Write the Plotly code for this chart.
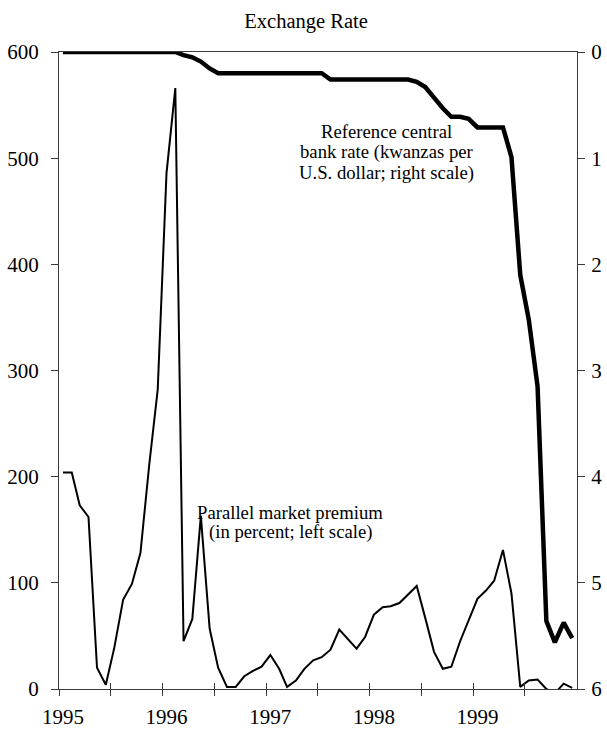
import pandas as pd
import plotly.graph_objects as go

# Monthly observations, January 1995 - December 1999 (plotted mid-month)
months = pd.date_range("1995-01-01", periods=60, freq="MS") + pd.Timedelta(days=14)

# Parallel market premium, in percent (left scale)
premium = [
    204, 204, 173, 162, 20, 4, 39, 84, 99, 128, 211, 282,      # 1995
    486, 566, 45, 66, 163, 57, 20, 2, 2, 12, 17, 21,           # 1996
    32, 19, 2, 8, 19, 27, 30, 37, 56, 47, 38, 49,              # 1997
    70, 77, 78, 81, 89, 97, 67, 35, 19, 21, 45, 65,            # 1998
    85, 93, 102, 131, 90, 2, 8, 9, 0, -4, 5, 1,                # 1999
]

# Reference central bank rate, kwanzas per U.S. dollar (right scale)
ref_rate = [
    0.0, 0.0, 0.0, 0.0, 0.0, 0.0, 0.0, 0.0, 0.0, 0.0, 0.0, 0.0,              # 1995
    0.0, 0.0, 0.03, 0.05, 0.09, 0.155, 0.20, 0.20, 0.20, 0.20, 0.20, 0.20,  # 1996
    0.20, 0.20, 0.20, 0.20, 0.20, 0.20, 0.20, 0.26, 0.26, 0.26, 0.26, 0.26, # 1997
    0.26, 0.26, 0.26, 0.26, 0.26, 0.28, 0.33, 0.43, 0.53, 0.61, 0.61, 0.63, # 1998
    0.71, 0.71, 0.71, 0.71, 0.99, 2.10, 2.52, 3.15, 5.36, 5.56, 5.375, 5.52, # 1999
]

year_ticks = ["1995-01-01", "1996-01-01", "1997-01-01", "1998-01-01", "1999-01-01"]
year_labels = ["1995", "1996", "1997", "1998", "1999"]
half_year_ticks = ["1995-07-01", "1996-07-01", "1997-07-01", "1998-07-01", "1999-07-01"]

left_ticks = [0, 100, 200, 300, 400, 500, 600]
right_ticks = [0, 1, 2, 3, 4, 5, 6]

rate_label = ["Reference central", "bank rate (kwanzas per", "U.S. dollar; right scale)"]
premium_label = ["Parallel market premium", "(in percent; left scale)"]

FONT = "Liberation Serif"
AXIS = "#3a3a3a"

fig = go.Figure()
fig.add_trace(go.Scatter(
    x=months, y=premium, mode="lines", xaxis="x", yaxis="y",
    line=dict(color="black", width=2), hoverinfo="skip", showlegend=False,
))
fig.add_trace(go.Scatter(
    x=months, y=ref_rate, mode="lines", xaxis="x", yaxis="y2",
    line=dict(color="black", width=4.5), hoverinfo="skip", showlegend=False,
))
# invisible copy that carries the inner half of the crossing x ticks
fig.add_trace(go.Scatter(
    x=months, y=premium, mode="lines", xaxis="x3", yaxis="y",
    line=dict(color="rgba(0,0,0,0)", width=0), hoverinfo="skip", showlegend=False,
))

x_range = ["1995-01-01", "2000-01-01"]

annotations = []
for i, line in enumerate(rate_label):
    annotations.append(dict(
        text=line, xref="paper", yref="paper", x=0.633, y=(689 - (131 + 21 * i)) / 637,
        xanchor="center", yanchor="middle", showarrow=False,
        font=dict(family=FONT, size=18.7, color="black")))
for i, line in enumerate(premium_label):
    annotations.append(dict(
        text=line, xref="paper", yref="paper", x=0.446, y=(689 - (512 + 20 * i)) / 637,
        xanchor="center", yanchor="middle", showarrow=False,
        font=dict(family=FONT, size=18.7, color="black")))

fig.update_layout(
    width=607, height=735,
    margin=dict(l=59, r=30, t=52, b=46),
    paper_bgcolor="white", plot_bgcolor="white",
    font=dict(family=FONT, size=21, color="black"),
    title=dict(text="Exchange Rate", x=0.477, xref="paper", xanchor="center",
               y=1 - 21 / 735, yref="container", yanchor="middle",
               font=dict(family=FONT, size=20.5, color="black")),
    xaxis=dict(
        type="date", range=x_range, tickmode="array",
        tickvals=year_ticks, ticktext=year_labels,
        ticks="outside", ticklen=6, tickwidth=1, tickcolor=AXIS,
        minor=dict(tickmode="array", tickvals=half_year_ticks, ticks="outside",
                   ticklen=6, tickwidth=1, tickcolor=AXIS),
        showline=True, linecolor=AXIS, linewidth=1, mirror=True,
        showgrid=False, zeroline=False, ticklabelshift=4, ticklabelstandoff=3,
        tickfont=dict(family=FONT, size=21), automargin=False,
    ),
    xaxis3=dict(
        type="date", range=x_range, overlaying="x", matches="x",
        tickmode="array", tickvals=year_ticks, showticklabels=False,
        ticks="inside", ticklen=6, tickwidth=1, tickcolor=AXIS,
        minor=dict(tickmode="array", tickvals=half_year_ticks, ticks="inside",
                   ticklen=6, tickwidth=1, tickcolor=AXIS),
        showline=False, showgrid=False, zeroline=False, automargin=False,
    ),
    yaxis=dict(
        range=[0, 600], tickmode="array", tickvals=left_ticks,
        ticks="outside", ticklen=7, tickwidth=1, tickcolor=AXIS,
        showline=True, linecolor=AXIS, linewidth=1,
        showgrid=False, zeroline=False, ticklabelstandoff=8,
        tickfont=dict(family=FONT, size=21), automargin=False,
    ),
    yaxis2=dict(
        range=[6, 0], overlaying="y", side="right", tickmode="array",
        tickvals=right_ticks,
        ticks="outside", ticklen=7, tickwidth=1, tickcolor=AXIS,
        showline=True, linecolor=AXIS, linewidth=1,
        showgrid=False, zeroline=False, ticklabelstandoff=2,
        tickfont=dict(family=FONT, size=21), automargin=False,
    ),
    annotations=annotations,
)

fig.write_html("out.html")
